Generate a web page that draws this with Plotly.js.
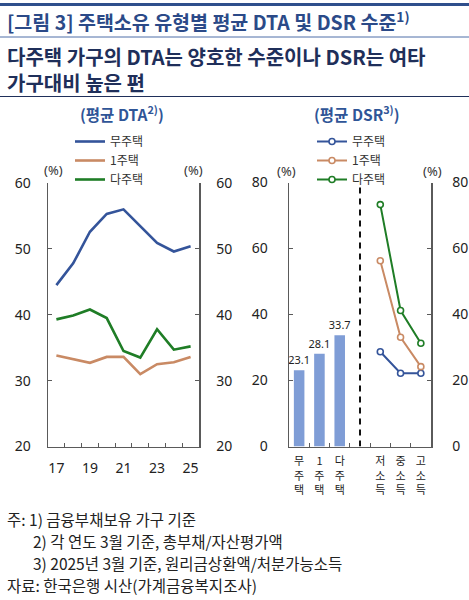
<!DOCTYPE html>
<html>
<head>
<meta charset="utf-8">
<script src="https://cdn.plot.ly/plotly-3.0.1.min.js"></script>
<style>
  html, body { margin: 0; padding: 0; background: #fff; }
  #chart { width: 469px; height: 600px; }
</style>
</head>
<body>
<div id="chart"></div>
<script>
// 평균 DTA (각 연도 3월 기준, %)
const years = ['17', '18', '19', '20', '21', '22', '23', '24', '25'];
const yearLabels = ['17', '', '19', '', '21', '', '23', '', '25'];
const dtaNoHouse = [44.5, 47.8, 52.6, 55.3, 56.0, 53.4, 50.9, 49.6, 50.4];
const dtaOneHouse = [33.8, 33.3, 32.7, 33.6, 33.6, 31.0, 32.5, 32.8, 33.6];
const dtaMultiHouse = [39.3, 39.9, 40.8, 39.5, 34.5, 33.5, 37.8, 34.7, 35.2];

// 평균 DSR (2025년 3월 기준, %)
const ownerCats = ['무주택', '1주택', '다주택'];
const ownerDsr = [23.1, 28.1, 33.7];
const incomeCats = ['저소득', '중소득', '고소득'];
const dsrNoHouse = [28.7, 22.2, 22.2];
const dsrOneHouse = [56.3, 33.1, 24.2];
const dsrMultiHouse = [73.3, 41.2, 31.3];
const gapCat = ' ';

const seriesNames = ['무주택', '1주택', '다주택'];
const colors = ['#34549a', '#c98a64', '#1f7d26'];

const FONT = 'Noto Sans, Noto Sans CJK KR, sans-serif';
const KR = 'Noto Sans CJK KR, sans-serif';
const W = 469, H = 600;
const px = v => v / W;
const py = v => 1 - v / H;

// vertical, one character per line
const stack = s => s.split('').join('<br>');
const dsrCats = ownerCats.concat([gapCat], incomeCats);
const dsrTickText = ownerCats.map(stack).concat([''], incomeCats.map(stack));

const dtaSeries = [dtaNoHouse, dtaOneHouse, dtaMultiHouse];
const dsrSeries = [dsrNoHouse, dsrOneHouse, dsrMultiHouse];

const traces = [];
dtaSeries.forEach((vals, i) => {
  traces.push({
    type: 'scatter', mode: 'lines', x: years, y: vals,
    name: seriesNames[i], legend: 'legend',
    line: { color: colors[i], width: 2.6 },
    xaxis: 'x', yaxis: 'y', hoverinfo: 'skip'
  });
});
// same series on the right-hand scale so that axis is drawn too
traces.push({
  type: 'scatter', mode: 'lines', x: years, y: dtaNoHouse, opacity: 0,
  showlegend: false, xaxis: 'x', yaxis: 'y2', hoverinfo: 'skip'
});
traces.push({
  type: 'bar', x: ownerCats, y: ownerDsr,
  text: ownerDsr.map(v => v.toFixed(1)), textposition: 'outside',
  textfont: { family: FONT, size: 11, color: '#222' },
  constraintext: 'none', cliponaxis: false,
  marker: { color: '#7f9dd6' }, width: 0.52,
  showlegend: false, xaxis: 'x2', yaxis: 'y3', hoverinfo: 'skip'
});
dsrSeries.forEach((vals, i) => {
  traces.push({
    type: 'scatter', mode: 'lines+markers', x: incomeCats, y: vals,
    name: seriesNames[i], legend: 'legend2',
    line: { color: colors[i], width: 2 },
    marker: { symbol: 'circle', size: 6, color: '#fff', line: { color: colors[i], width: 1.6 } },
    xaxis: 'x2', yaxis: 'y3', hoverinfo: 'skip', cliponaxis: false
  });
});
traces.push({
  type: 'scatter', mode: 'lines', x: incomeCats, y: dsrNoHouse, opacity: 0,
  showlegend: false, xaxis: 'x2', yaxis: 'y4', hoverinfo: 'skip'
});

const axisLine = { showline: true, linecolor: '#5a5a5a', linewidth: 1.5, showgrid: false, zeroline: false,
  ticks: 'inside', ticklen: 4, tickcolor: '#5a5a5a', tickwidth: 1.2, tickangle: 0,
  tickfont: { family: FONT, size: 14, color: '#222' }, fixedrange: true };

const dtaDomainY = [py(446.5), py(183)];
const dsrDomainY = [py(446.5), py(182.5)];

const layout = {
  width: W, height: H,
  margin: { l: 0, r: 0, t: 0, b: 0 },
  paper_bgcolor: '#fff', plot_bgcolor: 'rgba(0,0,0,0)',
  font: { family: FONT, color: '#222' },
  showlegend: true,
  xaxis: Object.assign({}, axisLine, {
    domain: [px(48), px(199)], anchor: 'y',
    type: 'category', categoryorder: 'array', categoryarray: years,
    range: [-0.5, 8.5], tickson: 'boundaries',
    tickmode: 'array', tickvals: years, ticktext: yearLabels, ticklabelstandoff: 8
  }),
  yaxis: Object.assign({}, axisLine, {
    domain: dtaDomainY, anchor: 'x', range: [20, 60], dtick: 10, tick0: 20,
    ticklabelstandoff: 13
  }),
  yaxis2: Object.assign({}, axisLine, {
    domain: dtaDomainY, anchor: 'x', overlaying: 'y', side: 'right',
    range: [20, 60], dtick: 10, tick0: 20, ticklabelstandoff: 13
  }),
  xaxis2: Object.assign({}, axisLine, {
    domain: [px(289), px(431)], anchor: 'y3',
    type: 'category', categoryorder: 'array', categoryarray: dsrCats,
    range: [-0.5, 6.5], tickson: 'boundaries',
    tickmode: 'array', tickvals: dsrCats, ticktext: dsrTickText,
    tickfont: { family: KR, size: 11, color: '#222' }, ticklabelstandoff: 4
  }),
  yaxis3: Object.assign({}, axisLine, {
    domain: dsrDomainY, anchor: 'x2', range: [0, 80], dtick: 20, tick0: 0,
    ticklabelstandoff: 17
  }),
  yaxis4: Object.assign({}, axisLine, {
    domain: dsrDomainY, anchor: 'x2', overlaying: 'y3', side: 'right',
    range: [0, 80], dtick: 20, tick0: 0, ticklabelstandoff: 17
  }),
  legend: {
    x: px(70), y: py(127), xanchor: 'left', yanchor: 'top',
    bgcolor: 'rgba(0,0,0,0)', font: { family: KR, size: 12, color: '#333' },
    tracegroupgap: 0, itemwidth: 30, traceorder: 'normal'
  },
  legend2: {
    x: px(312), y: py(127), xanchor: 'left', yanchor: 'top',
    bgcolor: 'rgba(0,0,0,0)', font: { family: KR, size: 12, color: '#333' },
    tracegroupgap: 0, itemwidth: 30, traceorder: 'normal'
  },
  shapes: [
    { type: 'line', xref: 'paper', yref: 'paper', x0: 0, x1: 1, y0: py(4.5), y1: py(4.5),
      line: { color: '#2f4f8c', width: 3 } },
    { type: 'line', xref: 'paper', yref: 'paper', x0: 0, x1: 1, y0: py(37), y1: py(37),
      line: { color: '#4f6fa8', width: 1 } },
    { type: 'line', xref: 'paper', yref: 'paper', x0: 0, x1: 1, y0: py(96.5), y1: py(96.5),
      line: { color: '#1f2f5a', width: 1.2 } },
    { type: 'line', xref: 'x2', yref: 'y3', x0: gapCat, x1: gapCat, y0: 0, y1: 78.7,
      line: { color: '#111', width: 2, dash: '6px,5px' } }
  ],
  annotations: [
    { xref: 'paper', yref: 'paper', x: px(5), y: py(21), xanchor: 'left', yanchor: 'middle', showarrow: false,
      text: '<b>[그림 3] 주택소유 유형별 평균 DTA 및 DSR 수준<sup>1)</sup></b>',
      font: { family: KR, size: 19.5, color: '#2b4a88' } },
    { xref: 'paper', yref: 'paper', x: px(5), y: py(57), xanchor: 'left', yanchor: 'middle', showarrow: false,
      text: '<b>다주택 가구의 DTA는 양호한 수준이나 DSR는 여타</b>',
      font: { family: KR, size: 20, color: '#1f2f5a' } },
    { xref: 'paper', yref: 'paper', x: px(5), y: py(82), xanchor: 'left', yanchor: 'middle', showarrow: false,
      text: '<b>가구대비 높은 편</b>',
      font: { family: KR, size: 20, color: '#1f2f5a' } },
    { xref: 'paper', yref: 'paper', x: px(122), y: py(113), xanchor: 'center', yanchor: 'middle', showarrow: false,
      text: '<b>(평균 DTA<sup>2)</sup>)</b>', font: { family: KR, size: 15.5, color: '#2f5597' } },
    { xref: 'paper', yref: 'paper', x: px(357), y: py(113), xanchor: 'center', yanchor: 'middle', showarrow: false,
      text: '<b>(평균 DSR<sup>3)</sup>)</b>', font: { family: KR, size: 15.5, color: '#2f5597' } },
    { xref: 'paper', yref: 'paper', x: px(53), y: py(170), xanchor: 'center', yanchor: 'middle', showarrow: false,
      text: '(%)', font: { family: FONT, size: 13, color: '#333' } },
    { xref: 'paper', yref: 'paper', x: px(193), y: py(170), xanchor: 'center', yanchor: 'middle', showarrow: false,
      text: '(%)', font: { family: FONT, size: 13, color: '#333' } },
    { xref: 'paper', yref: 'paper', x: px(286), y: py(171), xanchor: 'center', yanchor: 'middle', showarrow: false,
      text: '(%)', font: { family: FONT, size: 13, color: '#333' } },
    { xref: 'paper', yref: 'paper', x: px(432), y: py(171), xanchor: 'center', yanchor: 'middle', showarrow: false,
      text: '(%)', font: { family: FONT, size: 13, color: '#333' } },
    // latest-year values at the right end of the DTA lines
    { xref: 'x', yref: 'y', x: years[8], y: dtaNoHouse[8], xanchor: 'left', yanchor: 'middle',
      xshift: 13, yshift: 11, showarrow: false,
      text: dtaNoHouse[8].toFixed(1), font: { family: FONT, size: 12, color: colors[0] } },
    { xref: 'x', yref: 'y', x: years[8], y: dtaMultiHouse[8], xanchor: 'left', yanchor: 'middle',
      xshift: 13, yshift: 13, showarrow: false,
      text: dtaMultiHouse[8].toFixed(1), font: { family: FONT, size: 12, color: colors[2] } },
    { xref: 'x', yref: 'y', x: years[8], y: dtaOneHouse[8], xanchor: 'left', yanchor: 'middle',
      xshift: 13, yshift: -6, showarrow: false,
      text: dtaOneHouse[8].toFixed(1), font: { family: FONT, size: 12, color: colors[1] } },
    // notes
    { xref: 'paper', yref: 'paper', x: px(5), y: py(519), xanchor: 'left', yanchor: 'middle', showarrow: false,
      text: '주: 1) 금융부채보유 가구 기준', font: { family: KR, size: 15.5, color: '#222' } },
    { xref: 'paper', yref: 'paper', x: px(31), y: py(541), xanchor: 'left', yanchor: 'middle', showarrow: false,
      text: '2) 각 연도 3월 기준, 총부채/자산평가액', font: { family: KR, size: 15.5, color: '#222' } },
    { xref: 'paper', yref: 'paper', x: px(31), y: py(563), xanchor: 'left', yanchor: 'middle', showarrow: false,
      text: '3) 2025년 3월 기준, 원리금상환액/처분가능소득', font: { family: KR, size: 15.5, color: '#222' } },
    { xref: 'paper', yref: 'paper', x: px(5), y: py(585), xanchor: 'left', yanchor: 'middle', showarrow: false,
      text: '자료: 한국은행 시산(가계금융복지조사)', font: { family: KR, size: 15.5, color: '#222' } }
  ]
};

Plotly.newPlot('chart', traces, layout, { staticPlot: true, displayModeBar: false });
</script>
</body>
</html>
